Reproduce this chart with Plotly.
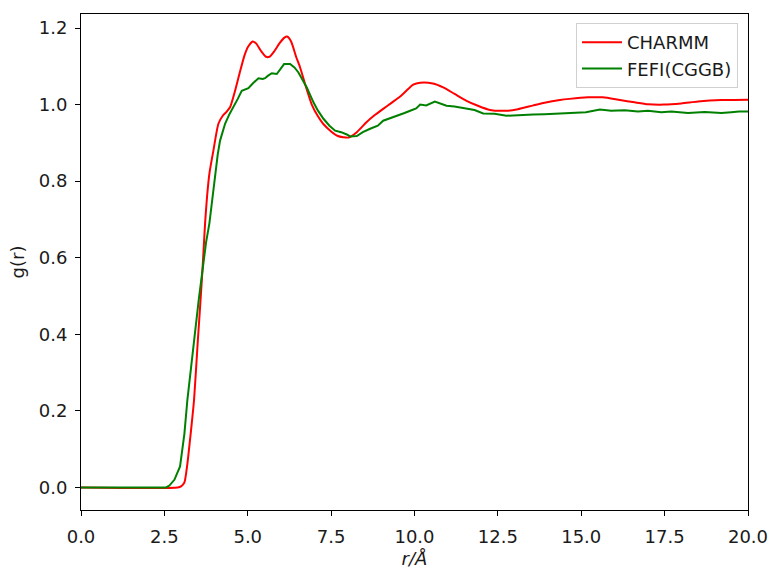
import plotly.graph_objects as go

charmm_r = [0, 2.9, 3.0, 3.1, 3.18, 3.3, 3.39, 3.5, 3.57, 3.65, 3.72, 3.78, 3.85, 3.97, 4.12, 4.25,
            4.35, 4.47, 4.62, 4.75, 4.9, 5.0, 5.15, 5.25, 5.4, 5.55, 5.65, 5.8, 5.95, 6.1, 6.18,
            6.3, 6.45, 6.57, 6.75, 6.92, 7.1, 7.26, 7.5, 7.7, 7.86, 8.02, 8.27, 8.56, 8.8, 9.06,
            9.3, 9.57, 9.8, 9.96, 10.17, 10.55, 10.86, 11.2, 11.56, 11.9, 12.26, 12.76, 13.1, 13.56,
            13.9, 14.36, 14.65, 15.2, 15.65, 16.16, 16.6, 17.0, 17.48, 18.0, 18.5, 19.2, 20.0]
charmm_g = [0, 0, 0.003, 0.013, 0.055, 0.15, 0.229, 0.38, 0.47, 0.58, 0.689, 0.76, 0.82, 0.88, 0.95, 0.971,
            0.98, 0.993, 1.036, 1.08, 1.128, 1.15, 1.165, 1.16, 1.14, 1.125, 1.125, 1.14, 1.16, 1.175, 1.178,
            1.165, 1.125, 1.097, 1.045, 1.0, 0.97, 0.95, 0.93, 0.918, 0.915, 0.914, 0.928, 0.954, 0.972, 0.989,
            1.004, 1.021, 1.04, 1.052, 1.057, 1.055, 1.045, 1.028, 1.01, 0.997, 0.986, 0.984, 0.988, 0.998,
            1.005, 1.012, 1.015, 1.019, 1.019, 1.012, 1.006, 1.001, 1.0, 1.003, 1.008, 1.012, 1.013]

fefi_r = [0, 2.55, 2.65, 2.8, 2.97, 3.1, 3.19, 3.3, 3.4, 3.53, 3.65, 3.75, 3.85, 3.92, 4.02, 4.1, 4.17,
          4.25, 4.32, 4.45, 4.57, 4.7, 4.82, 4.95, 5.02, 5.15, 5.32, 5.45, 5.52, 5.6, 5.72, 5.87, 5.95,
          6.09, 6.27, 6.4, 6.52, 6.65, 6.77, 6.97, 7.1, 7.27, 7.45, 7.62, 7.8, 7.97, 8.07, 8.27, 8.45,
          8.67, 8.9, 9.06, 9.3, 9.5, 9.7, 9.87, 10.05, 10.17, 10.35, 10.61, 10.8, 10.96, 11.2, 11.56,
          11.8, 12.06, 12.4, 12.76, 13.1, 13.56, 13.9, 14.36, 14.7, 15.14, 15.56, 15.9, 16.3, 16.7,
          17.0, 17.4, 17.7, 18.2, 18.7, 19.2, 19.5, 19.73, 20.0]
fefi_g = [0, 0, 0.005, 0.02, 0.055, 0.14, 0.229, 0.32, 0.39, 0.49, 0.58, 0.64, 0.69, 0.745, 0.82, 0.87, 0.906,
          0.93, 0.95, 0.975, 0.993, 1.015, 1.036, 1.04, 1.043, 1.055, 1.069, 1.067, 1.069, 1.075, 1.082, 1.08, 1.09,
          1.106, 1.106, 1.097, 1.084, 1.065, 1.045, 1.006, 0.985, 0.963, 0.945, 0.932, 0.928, 0.922, 0.917, 0.918, 0.928,
          0.937, 0.945, 0.958, 0.965, 0.972, 0.978, 0.984, 0.99, 1.0, 0.998, 1.008, 1.003, 0.997, 0.995, 0.989,
          0.986, 0.977, 0.976, 0.971, 0.973, 0.974, 0.975, 0.977, 0.98, 0.98, 0.987, 0.984, 0.985, 0.982,
          0.984, 0.98, 0.982, 0.978, 0.981, 0.978, 0.98, 0.982, 0.982]

x_ticks = [0, 2.5, 5, 7.5, 10, 12.5, 15, 17.5, 20]
x_labels = ["0.0", "2.5", "5.0", "7.5", "10.0", "12.5", "15.0", "17.5", "20.0"]
y_ticks = [0, 0.2, 0.4, 0.6, 0.8, 1.0, 1.2]
y_labels = ["0.0", "0.2", "0.4", "0.6", "0.8", "1.0", "1.2"]

fig = go.Figure()
fig.add_trace(go.Scatter(x=charmm_r, y=charmm_g, mode="lines", name="CHARMM",
                         line=dict(color="#ff0000", width=2, shape="spline", smoothing=0.6)))
fig.add_trace(go.Scatter(x=fefi_r, y=fefi_g, mode="lines", name="FEFI(CGGB)",
                         line=dict(color="#008000", width=2)))

txt = "#1a1a1a"
fig.update_layout(
    width=773, height=569,
    margin=dict(l=81, r=25, t=14, b=59),
    paper_bgcolor="white", plot_bgcolor="white",
    font=dict(family="DejaVu Sans", size=18, color=txt),
    showlegend=True,
    legend=dict(x=0.985, y=0.982, xanchor="right", yanchor="top", itemwidth=40,
                bgcolor="white", bordercolor="#d0d0d0", borderwidth=1,
                font=dict(family="DejaVu Sans", size=18, color=txt)),
    xaxis=dict(range=[0, 20], tickvals=x_ticks, ticktext=x_labels, automargin=False,
               showline=True, linecolor="black", linewidth=1, mirror=True,
               ticks="outside", ticklen=5, tickcolor="black", showgrid=False, zeroline=False,
               tickfont=dict(size=18), ticklabelstandoff=5,
               title=dict(text="<i>r/Å</i>", standoff=6, font=dict(family="DejaVu Sans", size=18))),
    yaxis=dict(range=[-0.0589, 1.2367], tickvals=y_ticks, ticktext=y_labels, automargin=False,
               showline=True, linecolor="black", linewidth=1, mirror=True,
               ticks="outside", ticklen=5, tickcolor="black", showgrid=False, zeroline=False,
               tickfont=dict(size=18), ticklabelstandoff=4,
               title=dict(text="g(r)", standoff=9, font=dict(family="DejaVu Sans", size=18))),
)

fig.write_html("out.html")
